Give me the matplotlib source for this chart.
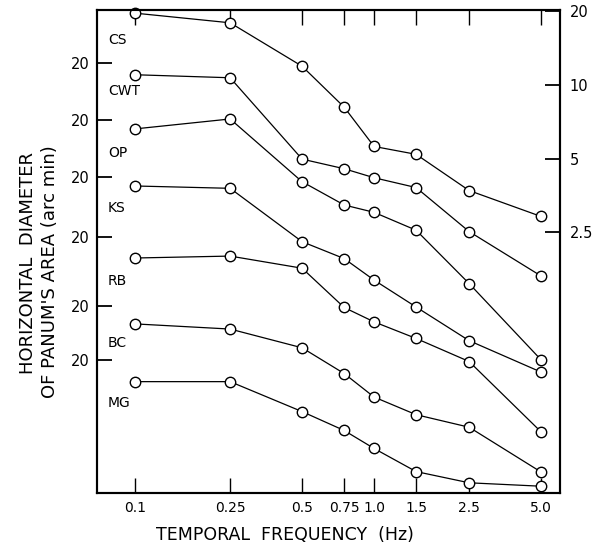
import numpy as np
import matplotlib.pyplot as plt
from matplotlib.ticker import FixedLocator, NullLocator, FixedFormatter

# temporal frequency (Hz)
freq = [0.1, 0.25, 0.5, 0.75, 1.0, 1.5, 2.5, 5.0]
freq_labels = ['0.1', '0.25', '0.5', '0.75', '1.0', '1.5', '2.5', '5.0']

# horizontal diameter of Panum's area (arc min), per subject
subjects = ['CS', 'CWT', 'OP', 'KS', 'RB', 'BC', 'MG']
cs = [19.6, 17.9, 11.9, 8.1, 5.6, 5.2, 3.7, 2.9]
cwt = [17.9, 17.4, 8.1, 7.4, 6.8, 6.2, 4.1, 2.7]
op = [18.4, 20.2, 11.2, 9.0, 8.4, 7.1, 4.3, 2.1]
ks = [18.4, 18.0, 10.9, 9.3, 7.6, 5.9, 4.3, 3.2]
rb = [16.4, 16.7, 14.9, 10.3, 9.0, 7.7, 6.2, 3.2]
bc = [16.9, 16.1, 13.5, 10.6, 8.5, 7.2, 6.4, 4.2]
mg = [16.3, 16.3, 12.3, 10.3, 8.7, 7.0, 6.3, 6.1]
series = [cs, cwt, op, ks, rb, bc, mg]

# vertical shift of each curve (log10 units) and its "20" reference tick
shift = [0.0, 0.212, 0.445, 0.678, 0.922, 1.204, 1.424]
right_ticks = [20, 10, 5, 2.5]
right_labels = ['20', '10', '5', '2.5']

plt.rcParams['font.family'] = 'DejaVu Sans'

fig = plt.figure(figsize=(5.96, 5.53), dpi=100)
ax = fig.add_axes([97 / 596, 1 - 493 / 553, 463 / 596, 483 / 553])

for vals, s in zip(series, shift):
    y = np.array(vals) / 10 ** s
    ax.plot(freq, y, color='black', lw=0.9, marker='o', ms=7.5,
            mfc='white', mec='black', mew=1.0, clip_on=False, zorder=3)

ax.set_xscale('log')
ax.set_yscale('log')
ax.set_xlim(0.0693, 6.0)
ax.set_ylim(20 * 10 ** (-482 / 245), 20 * 10 ** (1 / 245))

ax.xaxis.set_major_locator(FixedLocator(freq))
ax.xaxis.set_major_formatter(FixedFormatter(freq_labels))
ax.xaxis.set_minor_locator(NullLocator())

left_pos = [20 / 10 ** s for s in shift[1:]]
ax.yaxis.set_major_locator(FixedLocator(left_pos))
ax.yaxis.set_major_formatter(FixedFormatter(['20'] * len(left_pos)))
ax.yaxis.set_minor_locator(NullLocator())

ax.tick_params(axis='x', which='major', direction='in', length=11, width=1,
               top=True, labelsize=10, pad=6)
ax.tick_params(axis='y', which='major', direction='in', length=11, width=1.3,
               labelsize=10.5, pad=5)

ax2 = ax.twinx()
ax2.set_yscale('log')
ax2.set_ylim(ax.get_ylim())
ax2.yaxis.set_major_locator(FixedLocator(right_ticks))
ax2.yaxis.set_major_formatter(FixedFormatter(right_labels))
ax2.yaxis.set_minor_locator(NullLocator())
ax2.tick_params(axis='y', direction='in', length=11, width=1.3, labelsize=10.5, pad=7)

for a in (ax, ax2):
    for sp in a.spines.values():
        sp.set_linewidth(1.5)

# subject names
label_drop = [0.12, 0.115, 0.135, 0.127, 0.18, 0.15, 0.175]
for name, s, d in zip(subjects, shift, label_drop):
    ax.text(0.024, 20 / 10 ** (s + d), name, transform=ax.get_yaxis_transform(),
            fontsize=10, va='center', ha='left')

fig.text(285 / 596, 1 - 535 / 553, 'TEMPORAL  FREQUENCY  (Hz)', ha='center',
         va='center', fontsize=12.5)
fig.text(28 / 596, 1 - 263 / 553, 'HORIZONTAL  DIAMETER', rotation=90,
         ha='center', va='center', fontsize=13)
fig.text(50 / 596, 1 - 272 / 553, "OF PANUM'S AREA (arc min)", rotation=90,
         ha='center', va='center', fontsize=13)

fig.savefig('out.png', dpi=100)
